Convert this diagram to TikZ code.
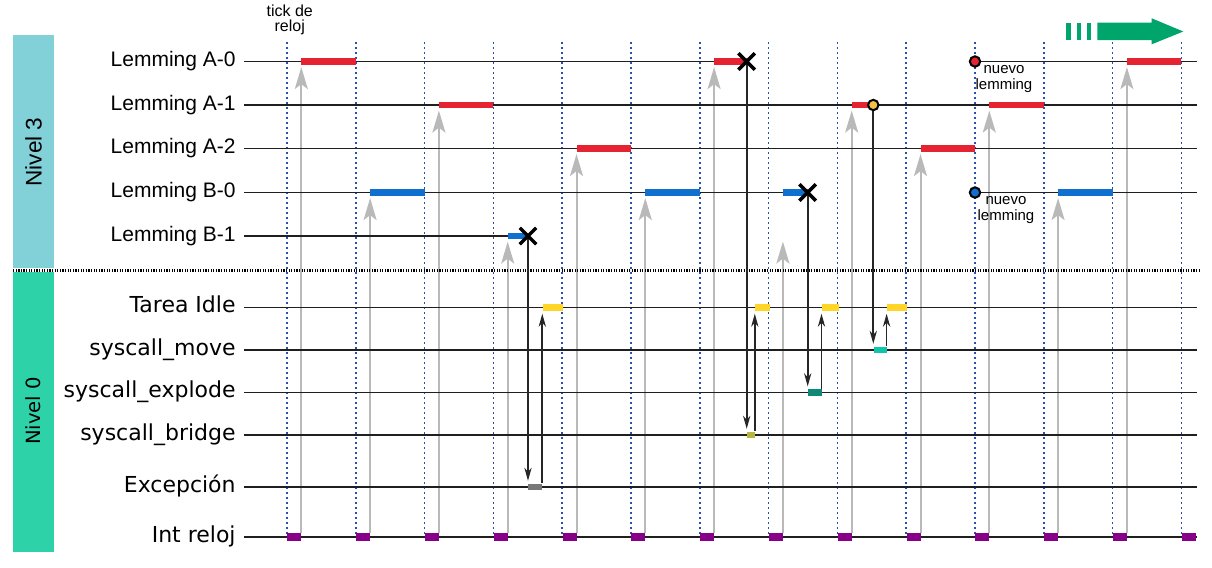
\documentclass[tikz,border=0pt]{standalone}
\usepackage{fontspec}
\setmainfont{Liberation Sans}
\newfontfamily\dejavu{DejaVu Sans}
\usetikzlibrary{positioning,arrows.meta,shapes.misc,backgrounds}
\definecolor{nivtres}{RGB}{130,208,216}
\definecolor{nivcero}{RGB}{45,210,168}
\definecolor{lemred}{RGB}{230,35,48}
\definecolor{lemblue}{RGB}{16,112,208}
\definecolor{idleyel}{RGB}{255,214,40}
\definecolor{circyel}{RGB}{240,192,72}
\definecolor{relpurple}{RGB}{136,0,136}
\definecolor{excgray}{RGB}{120,120,120}
\definecolor{bridgeol}{RGB}{182,182,64}
\definecolor{explteal}{RGB}{16,136,120}
\definecolor{moveteal}{RGB}{16,198,170}
\definecolor{tickblue}{RGB}{40,80,180}
\definecolor{flechaverde}{RGB}{0,165,108}
\definecolor{flechagris}{RGB}{185,185,185}

\tikzset{
  fila/.style={line width=0.8pt,black!88},
  tickline/.style={tickblue,line width=0.75pt,dash pattern=on 0.75pt off 1.75pt},
  relojarrow/.style={flechagris,line width=1pt,shorten >=2.8pt,
    -{Stealth[length=11pt,width=6.5pt,inset=2.5pt]}},
  callarrow/.style={black!85,line width=0.85pt,shorten >=1.2pt,
    -{Stealth[length=6.5pt,width=3.6pt,inset=2pt]}},
  runbar/.style={line width=3.3pt},
  blk/.style={rectangle,inner sep=0pt,minimum height=3.4pt,anchor=west},
  muerte/.style={cross out,draw=black,line width=1.75pt,minimum size=6.5pt,inner sep=0pt},
  nuevo/.style={circle,draw=black,line width=1pt,minimum size=5.2pt,inner sep=0pt},
  lbl/.style={anchor=east,inner sep=0pt,text height=7.5pt,text depth=2.2pt,
    font=\fontsize{10.5}{12.6}\selectfont},
  lblcero/.style={lbl,font=\dejavu\fontsize{11}{13}\selectfont},
  nota/.style={inner sep=0pt,align=center,font=\fontsize{7.5}{8}\selectfont}
}

\begin{document}
\begin{tikzpicture}[x=0.5pt,y=-0.5pt]
  \useasboundingbox (0,0) rectangle (1212,568);

  % franjas de nivel
  \fill[nivtres] (13,35) rectangle (54,268);
  \fill[nivcero] (13,271.5) rectangle (54,552);
  \node[rotate=90,font=\fontsize{11.3}{13}\selectfont] (niv3) at (33.5,152) {Nivel 3};
  \node[rotate=90,font=\dejavu\fontsize{9.8}{12}\selectfont] (niv0) at (33.5,411) {Nivel 0};

  \node[inner sep=0pt,align=center,anchor=north,font=\fontsize{8}{7.5}\selectfont]
    (tick) at (289.7,5) {tick de\\reloj};

  % filas
  \foreach \n/\y/\t in {A0/61.5/Lemming A-0,A1/105/Lemming A-1,A2/148.5/Lemming A-2,
                        B0/192.5/Lemming B-0,B1/236/Lemming B-1}
    \node[lbl] (l\n) at (236,\y) {\t};
  \foreach \n/\y/\t in {Idle/307.5/Tarea Idle,Move/350/syscall\_move,
                        Expl/392.5/syscall\_explode,Bridge/435/syscall\_bridge,
                        Exc/487/Excepción,Int/537/Int reloj}
    \node[lblcero] (l\n) at (236,\y) {\t};

  \coordinate (fin) at (1197,0);
  \coordinate (tope) at (0,42);
  \coordinate (xA0) at (746.7,61.5);
  \coordinate (xB0) at (807.7,192.5);
  \coordinate (xB1) at (528,236);
  \coordinate (mvA1) at (873.3,105);
  \coordinate (nwA0) at (975,61.5);
  \coordinate (nwB0) at (975,192.5);

  \foreach \n in {A1,A2,Idle,Move,Expl,Bridge,Exc,Int}
    \draw[fila] ([xshift=4pt]l\n.east) -- (l\n.east -| fin);
  \draw[fila] ([xshift=4pt]lA0.east) -- (xA0) (nwA0) -- (lA0.east -| fin);
  \draw[fila] ([xshift=4pt]lB0.east) -- (xB0) (nwB0) -- (lB0.east -| fin);
  \draw[fila] ([xshift=4pt]lB1.east) -- (xB1);

  \draw[line width=1.5pt,dash pattern=on 0.65pt off 0.65pt] (13,270) -- (1200,270);

  % interrupciones de reloj
  \foreach \k in {0,...,13}
    \node[blk,fill=relpurple,minimum width=7pt,minimum height=3.7pt] (int\k) at (287+68.8*\k,537) {};

  \begin{scope}[on background layer]
    \foreach \k in {0,...,13}
      \draw[tickline] (int\k.west |- tope) -- (int\k.west);
    \foreach \k/\n in {0/A0,1/B0,2/A1,3/B1,4/A2,5/B0,6/A0,7/B1,8/A1,9/A2,10/A1,11/B0,12/A0}
      \draw[relojarrow] ([xshift=-0.25pt]int\k.north east) -- ([xshift=-0.25pt]int\k.east |- l\n.east);
  \end{scope}

  % ejecucion de los lemmings
  \foreach \k/\n/\c in {0/A0/lemred,1/B0/lemblue,2/A1/lemred,4/A2/lemred,5/B0/lemblue,
                        9/A2/lemred,10/A1/lemred,11/B0/lemblue,12/A0/lemred}{
    \pgfmathtruncatemacro\kk{\k+1}
    \draw[runbar,\c] ([xshift=-0.25pt]int\k.east |- l\n.east) -- (int\kk.west |- l\n.east);
  }
  \draw[runbar,lemblue] ([xshift=-0.25pt]int3.east |- xB1) -- (xB1);
  \draw[runbar,lemred] ([xshift=-0.25pt]int6.east |- xA0) -- (xA0);
  \draw[runbar,lemblue] ([xshift=-0.25pt]int7.east |- xB0) -- (xB0);
  \draw[runbar,lemred] ([xshift=-0.25pt]int8.east |- mvA1) -- (mvA1);

  % nivel 0
  \node[blk,fill=excgray,minimum width=7pt] (exc) at (xB1 |- lExc.east) {};
  \node[blk,fill=idleyel,minimum width=10.2pt] (idle1) at ([xshift=-0.25pt]exc.east |- lIdle.east) {};
  \node[blk,fill=bridgeol,minimum width=4.15pt] (brg) at (xA0 |- lBridge.east) {};
  \node[blk,fill=idleyel,minimum width=7.3pt] (idle2) at ([xshift=-0.5pt]brg.east |- lIdle.east) {};
  \node[blk,fill=explteal,minimum width=6.75pt] (expl) at (xB0 |- lExpl.east) {};
  \node[blk,fill=idleyel,minimum width=8.35pt] (idle3) at ([xshift=-0.25pt]expl.east |- lIdle.east) {};
  \node[blk,fill=moveteal,minimum width=6.5pt] (mov) at (mvA1 |- lMove.east) {};
  \node[blk,fill=idleyel,minimum width=10.1pt] (idle4) at ([xshift=-0.25pt]mov.east |- lIdle.east) {};

  \draw[callarrow] (xB1) -- (xB1 |- exc.north);
  \draw[callarrow] ([xshift=-0.25pt]exc.north east) -- ([xshift=-0.25pt]exc.north east |- idle1.south);
  \draw[callarrow] (xA0) -- (xA0 |- brg.north);
  \draw[callarrow] ([xshift=-0.5pt]brg.north east) -- ([xshift=-0.5pt]brg.north east |- idle2.south);
  \draw[callarrow] (xB0) -- (xB0 |- expl.north);
  \draw[callarrow] ([xshift=-0.25pt]expl.north east) -- ([xshift=-0.25pt]expl.north east |- idle3.south);
  \draw[callarrow] (mvA1) -- (mvA1 |- mov.north);
  \draw[callarrow] ([xshift=-0.25pt]mov.north east) -- ([xshift=-0.25pt]mov.north east |- idle4.south);

  % marcas
  \node[muerte] (mB1) at (xB1) {};
  \node[muerte] (mA0) at (xA0) {};
  \node[muerte] (mB0) at (xB0) {};
  \node[nuevo,fill=circyel] (cA1) at (mvA1) {};
  \node[nuevo,fill=lemred] (nA0) at (nwA0) {};
  \node[nuevo,fill=lemblue] (nB0) at (nwB0) {};
  \node[nota,anchor=north] (tA0) at (1004,65.5) {nuevo\\lemming};
  \node[nota,anchor=north] (tB0) at (1006,196.5) {nuevo\\lemming};

  % flecha del tiempo
  \foreach \x in {1066,1076.7,1086.7}
    \fill[flechaverde] (\x,22.7) rectangle ++(4.6,17.3);
  \fill[flechaverde] (1097.3,22.7) -- (1151.7,22.7) -- (1151.7,18.3) -- (1183.3,31.5)
    -- (1151.7,44.3) -- (1151.7,40) -- (1097.3,40) -- cycle;
\end{tikzpicture}
\end{document}
